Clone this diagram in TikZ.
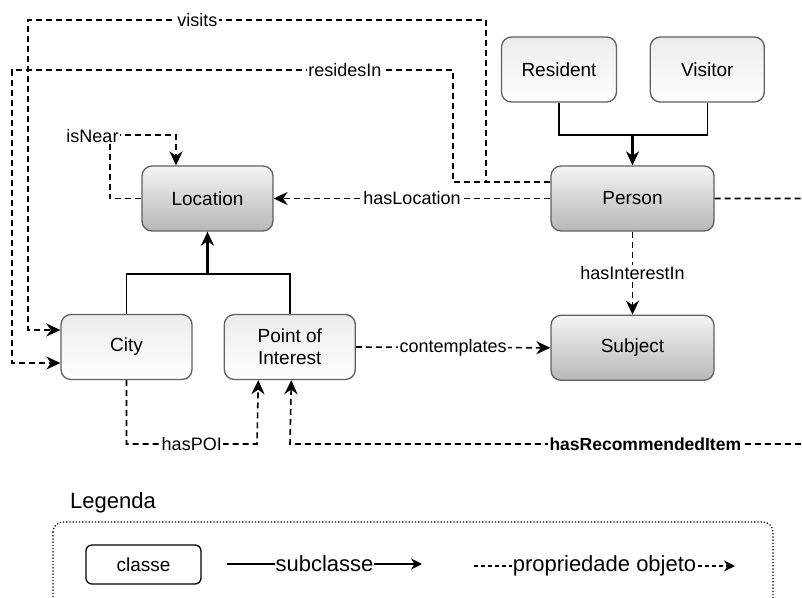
\documentclass[tikz,border=0pt]{standalone}
\usepackage{fontspec}
\setmainfont{Liberation Sans}
\usetikzlibrary{positioning}
\usetikzlibrary{arrows.meta}
\definecolor{boxline}{HTML}{606060}
\tikzset{class node/.style={rectangle,rounded corners=10pt,draw=boxline,line width=1.3pt,minimum height=65pt,inner sep=2pt,align=center,font=\fontsize{19}{22}\selectfont},
  main class/.style={class node,top color=gray!9,bottom color=gray!56},
  sub class/.style={class node,top color=gray!15,bottom color=white},
  prop/.style={draw,line width=1.6pt,dash pattern=on 6pt off 4pt,-{Stealth[length=14pt,width=13pt,inset=4.5pt]}},
  subline/.style={draw,line width=1.6pt},
  subarrow/.style={subline,line width=2.3pt,-{Stealth[length=14pt,width=13pt,inset=4.5pt]}},
  lbl/.style={fill=white,inner sep=1.5pt,font=\fontsize{18}{21}\selectfont},
  lbl bold/.style={lbl,font=\fontsize{17.5}{20}\selectfont\bfseries},
  legend text/.style={font=\fontsize{22}{26}\selectfont},}

\begin{document}
\begin{tikzpicture}[x=1pt, y=-1pt, node distance=30pt]
    \clip (0,0) rectangle (802,597);
    \node[main class, minimum width=131pt] (location) at (207.5,198.5) {Location};
    \node[main class, minimum width=163pt] (person) at (632.5,198.5) {Person};
    \node[sub class, minimum width=115pt] (resident) at (559,69.5) {Resident};
    \node[sub class, minimum width=114pt] (visitor) [right = 32.5pt of resident] {Visitor};
    \node[sub class, minimum width=131pt] (city) at (126.5,347) {City};
    \node[sub class, minimum width=131pt] (poi) [right = 31pt of city] {Point of\\Interest};
    \node[main class, minimum width=163pt] (subject) [below = 83pt of person] {Subject};

    \coordinate (person join) at (632.5,135);
    \coordinate (location join) at (207.5,274);

    \path[subline] (resident.south) -- (resident.south |- person join) -- (visitor.south |- person join) -- (visitor.south);
    \path[subarrow] (person join) -- (person.north);
    \path[subline] (city.north) -- (city.north |- location join) -- (poi.north |- location join) -- (poi.north);
    \path[subarrow] (location join) -- (location.south);

    \path[prop] (person.west) -- node[lbl] {hasLocation} (location.east);
    \path[prop] (person.south) -- node[lbl] {hasInterestIn} (subject.north);
    \path[prop] (poi.east) -- node[lbl] {contemplates} (subject.west);
    \path[prop] (location.west) -| (110,135) node[lbl, xshift=-17.5pt, yshift=-1pt] {isNear} -| ([xshift=-31.5pt]location.north);
    \path[prop] ([yshift=16.5pt]person.west) -| (486,20) -- node[lbl, pos=0.63] {visits} (28,20) |- ([yshift=17pt]city.west);
    \path[prop] ([yshift=16.5pt]person.west) -| (453,70) -- node[lbl, pos=0.245] {residesIn} (12,70) |- ([yshift=-16pt]city.west);
    \path[prop] (city.south) |- node[lbl, pos=0.75] {hasPOI} (257,444) -- ([xshift=-31.5pt]poi.south);
    \path[prop] (person.east) -- (830,198.5) |- node[lbl bold, pos=0.671] {hasRecommendedItem} (290,444) -- ([xshift=1.5pt]poi.south);

    \node[legend text] (legend title) at (113,503) {Legenda};
    \draw[line width=1.2pt, dotted, rounded corners=10pt] (53,522) rectangle (773,640);
    \node[rectangle, rounded corners=6pt, draw, line width=1.3pt, minimum width=115pt, minimum height=39pt, font=\fontsize{19}{22}\selectfont] (legend class) at (143.5,564.5) {classe};
    \coordinate (sub start) at (227,564);
    \coordinate (sub end) at (422,564);
    \coordinate (prop start) at (474,566);
    \coordinate (prop end) at (735,566);
    \draw[line width=1.5pt, -{Stealth[length=11pt,width=11pt,inset=3.5pt]}] (sub start) -- node[fill=white, inner sep=1pt, legend text] {subclasse} (sub end);
    \draw[line width=1.4pt, dash pattern=on 4pt off 3pt, -{Stealth[length=11pt,width=11pt,inset=3.5pt]}] (prop start) -- node[fill=white, inner sep=1pt, legend text] {propriedade objeto} (prop end);
\end{tikzpicture}
\end{document}
